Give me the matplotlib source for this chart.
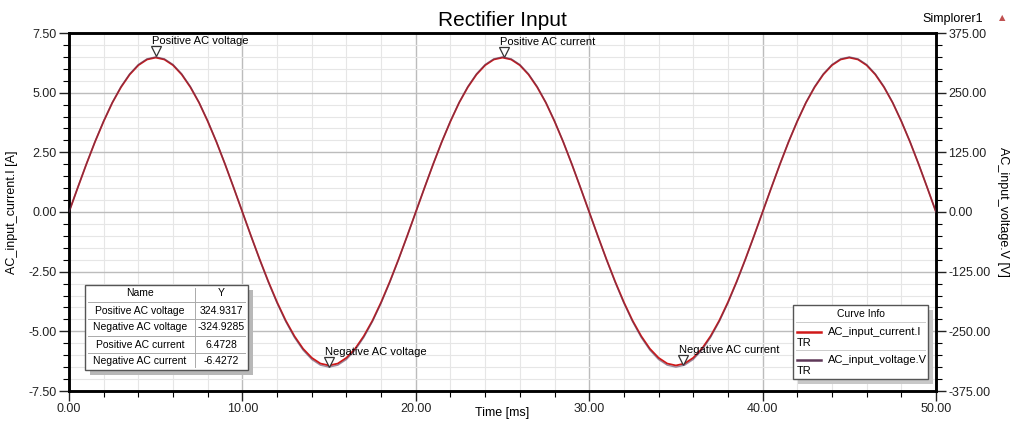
import matplotlib
matplotlib.use('Agg')
import matplotlib.pyplot as plt
import matplotlib.transforms as mtransforms
from matplotlib.patches import Rectangle
from matplotlib.lines import Line2D
from matplotlib.ticker import MultipleLocator, FormatStrFormatter

plt.rcParams['font.family'] = ['Liberation Sans', 'DejaVu Sans']

# data (0.5 ms steps)
time_ms = [i * 0.5 for i in range(101)]
current_A = [0.00, 1.01, 2.00, 2.94, 3.80, 4.58, 5.23, 5.76, 6.15, 6.39,
             6.47, 6.39, 6.15, 5.76, 5.23, 4.58, 3.80, 2.94, 2.00, 1.01,
             0.00, -1.01, -1.99, -2.92, -3.78, -4.55, -5.20, -5.73, -6.11, -6.35,
             -6.43, -6.35, -6.11, -5.73, -5.20, -4.55, -3.78, -2.92, -1.99, -1.01,
             0.00, 1.01, 2.00, 2.94, 3.80, 4.58, 5.23, 5.76, 6.15, 6.39,
             6.47, 6.39, 6.15, 5.76, 5.23, 4.58, 3.80, 2.94, 2.00, 1.01,
             0.00, -1.01, -1.99, -2.92, -3.78, -4.55, -5.20, -5.73, -6.11, -6.35,
             -6.43, -6.35, -6.11, -5.73, -5.20, -4.55, -3.78, -2.92, -1.99, -1.01,
             0.00, 1.01, 2.00, 2.94, 3.80, 4.58, 5.23, 5.76, 6.15, 6.39,
             6.47, 6.39, 6.15, 5.76, 5.23, 4.58, 3.80, 2.94, 2.00, 1.01, 0.00]
voltage_V = [0.0, 50.8, 100.4, 147.5, 191.0, 229.7, 262.9, 289.5, 309.0, 320.9,
             324.9, 320.9, 309.0, 289.5, 262.9, 229.7, 191.0, 147.5, 100.4, 50.8,
             0.0, -50.8, -100.4, -147.5, -191.0, -229.7, -262.9, -289.5, -309.0, -320.9,
             -324.9, -320.9, -309.0, -289.5, -262.9, -229.7, -191.0, -147.5, -100.4, -50.8,
             0.0, 50.8, 100.4, 147.5, 191.0, 229.7, 262.9, 289.5, 309.0, 320.9,
             324.9, 320.9, 309.0, 289.5, 262.9, 229.7, 191.0, 147.5, 100.4, 50.8,
             0.0, -50.8, -100.4, -147.5, -191.0, -229.7, -262.9, -289.5, -309.0, -320.9,
             -324.9, -320.9, -309.0, -289.5, -262.9, -229.7, -191.0, -147.5, -100.4, -50.8,
             0.0, 50.8, 100.4, 147.5, 191.0, 229.7, 262.9, 289.5, 309.0, 320.9,
             324.9, 320.9, 309.0, 289.5, 262.9, 229.7, 191.0, 147.5, 100.4, 50.8, 0.0]

# markers
marker_names = ['Positive AC voltage', 'Negative AC voltage', 'Positive AC current', 'Negative AC current']
marker_values = ['324.9317', '-324.9285', '6.4728', '-6.4272']
marker_t = [5.0, 15.0, 25.1, 35.4]
marker_y = [324.9317, -324.9285, 6.4728, -6.4272]
marker_axis = ['V', 'V', 'I', 'I']

legend_labels = ['AC_input_current.I', 'AC_input_voltage.V']
red = '#d01818'
purple = '#5e3858'

fig = plt.figure(figsize=(10.11, 4.24), dpi=100)
ax = fig.add_axes([69/1011, 1-391/424, (936-69)/1011, (391-33)/424])
ax2 = ax.twinx()

ax.plot(time_ms, current_A, color=red, lw=1.3, zorder=3)
ax2.plot(time_ms, voltage_V, color=purple, lw=1.0, alpha=0.6, zorder=3)

ax.set_xlim(0, 50)
ax.set_ylim(-7.5, 7.5)
ax2.set_ylim(-375, 375)

ax.xaxis.set_major_locator(MultipleLocator(10))
ax.xaxis.set_minor_locator(MultipleLocator(2))
ax.yaxis.set_major_locator(MultipleLocator(2.5))
ax.yaxis.set_minor_locator(MultipleLocator(0.5))
ax2.yaxis.set_major_locator(MultipleLocator(125))
ax2.yaxis.set_minor_locator(MultipleLocator(25))
ax.xaxis.set_major_formatter(FormatStrFormatter('%.2f'))
ax.yaxis.set_major_formatter(FormatStrFormatter('%.2f'))
ax2.yaxis.set_major_formatter(FormatStrFormatter('%.2f'))

ax.grid(which='major', color='#bcbcbc', lw=1.0)
ax.grid(which='minor', color='#e6e6e6', lw=0.8)
ax.set_axisbelow(True)

for a in (ax, ax2):
    for s in a.spines.values():
        s.set_linewidth(1.8)
    a.tick_params(which='major', length=7, width=1.0, labelsize=9, colors='#222222', pad=2)
    a.tick_params(which='minor', length=4, width=0.8)

ax.set_title('Rectifier Input', fontsize=15, pad=5)
ax.set_xlabel('Time [ms]', fontsize=9)
ax.xaxis.set_label_coords(0.5, -(413-391)/358)
ax.xaxis.label.set_va('center')
ax.set_ylabel('AC_input_current.I [A]', fontsize=9)
ax.yaxis.set_label_coords(-(69-12)/867, 0.5)
ax.yaxis.label.set_va('center')
ax2.set_ylabel('AC_input_voltage.V [V]', fontsize=9, rotation=270)
ax2.yaxis.set_label_coords(1+(1003-936)/867, 0.5)
ax2.yaxis.label.set_va('center')

fig.text(922/1011, 1-19/424, 'Simplorer1', fontsize=9, va='center', ha='left')
fig.text(1002/1011, 1-18/424, '\u25b2', fontsize=6, color='#c05050', va='center', ha='center',
         family='DejaVu Sans')

# peak markers with labels
for name, t, y, which in zip(marker_names, marker_t, marker_y, marker_axis):
    a = ax2 if which == 'V' else ax
    tr = mtransforms.offset_copy(a.transData, fig=fig, y=4, units='points')
    a.plot([t], [y], marker='v', ms=7, mfc='white', mec='#333333', mew=0.9,
           transform=tr, zorder=5, clip_on=False)
    tr2 = mtransforms.offset_copy(a.transData, fig=fig, x=-3, y=7.5, units='points')
    a.text(t, y, name, fontsize=8, ha='left', va='bottom', transform=tr2, zorder=5)

# marker table
def px(x, y):
    return x/1011, 1-y/424

tl, tr_, tt, tb = 85, 248, 285, 370
col = 195
rh = (tb - tt) / 5
x0, y0 = px(tl + 5, tb + 5)
fig.patches.append(Rectangle((x0, y0), (tr_-tl)/1011, (tb-tt)/424, transform=fig.transFigure,
                             facecolor='#b8b8b8', edgecolor='none', zorder=4))
x0, y0 = px(tl, tb)
fig.patches.append(Rectangle((x0, y0), (tr_-tl)/1011, (tb-tt)/424, transform=fig.transFigure,
                             facecolor='white', edgecolor='#555555', lw=1.0, zorder=5))
rows = [('Name', 'Y')] + list(zip(marker_names, marker_values))
for i, (n, v) in enumerate(rows):
    yc = tt + rh * (i + 0.5)
    fig.text(*px((tl + col) / 2, yc), n, fontsize=7.5, ha='center', va='center', zorder=6)
    fig.text(*px((col + tr_) / 2, yc), v, fontsize=7.5, ha='center', va='center', zorder=6)
    if i > 0:
        fig.add_artist(Line2D([(tl+3)/1011, (tr_-3)/1011], [1-(tt+rh*i)/424]*2, color='#aaaaaa', lw=0.7, zorder=6))
fig.add_artist(Line2D([col/1011]*2, [1-(tt+3)/424, 1-(tb-3)/424], color='#aaaaaa', lw=0.7, zorder=6))

# curve info box
ll, lr, lt, lb = 793, 928, 305, 379
x0, y0 = px(ll + 5, lb + 5)
fig.patches.append(Rectangle((x0, y0), (lr-ll)/1011, (lb-lt)/424, transform=fig.transFigure,
                             facecolor='#c8c8c8', edgecolor='none', zorder=4))
x0, y0 = px(ll, lb)
fig.patches.append(Rectangle((x0, y0), (lr-ll)/1011, (lb-lt)/424, transform=fig.transFigure,
                             facecolor='white', edgecolor='#555555', lw=1.0, zorder=5))
fig.text(*px((ll+lr)/2, 314), 'Curve Info', fontsize=7.5, ha='center', va='center', zorder=6)
for yl in (322, 350):
    fig.add_artist(Line2D([(ll+3)/1011, (lr-3)/1011], [1-yl/424]*2, color='#cccccc', lw=0.7, zorder=6))
for lab, c, yy in zip(legend_labels, [red, purple], [332, 360]):
    fig.add_artist(Line2D([797/1011, 821/1011], [1-yy/424]*2, color=c, lw=1.8, zorder=6))
    fig.text(*px(828, yy), lab, fontsize=8, ha='left', va='center', zorder=6)
    fig.text(*px(797, yy + 11), 'TR', fontsize=8, ha='left', va='center', zorder=6)

fig.savefig('out.png', dpi=100)
